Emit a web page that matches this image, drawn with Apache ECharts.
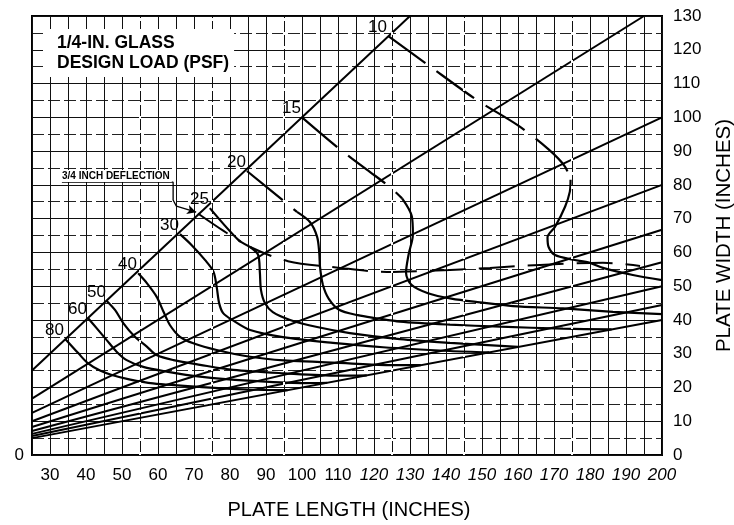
<!DOCTYPE html>
<html><head><meta charset="utf-8">
<script src="https://cdn.jsdelivr.net/npm/echarts@6.0.0/dist/echarts.min.js"></script>
<style>html,body{margin:0;padding:0;background:#fff}#c{width:734px;height:525px}</style>
</head><body><div id="c"></div>
<script>
// ---- axis ranges / ticks ----
const xMin = 25, xMax = 200, xStep = 5;
const yMin = 0, yMax = 130, yStep = 10;

// ---- aspect-ratio lines (length : width), endpoints ----
const ratio1   = [[25, 25],   [130, 130]];
const ratio1_5 = [[25, 16.7], [195, 130]];
const ratio2   = [[25, 12.5], [200, 100]];
const ratio2_5 = [[25, 10],   [200, 80]];
const ratio3   = [[25, 8.3],  [200, 66.7]];
const ratio3_5 = [[25, 7.1],  [200, 57.1]];
const ratio4   = [[25, 6.25], [200, 50]];
const ratio4_5 = [[25, 5.6],  [200, 44.4]];
const ratio5   = [[25, 5],    [200, 40]];

// ---- design-load curves (psf) ----
const loadNames = ['10', '15', '20', '25', '30', '40', '50', '60', '80'];
const load10Dashed = [[123.9,124.1],[135,115.5],[148.6,105.1],[160,97.6],[168.5,90.5],[173,85.5],[174.6,81.5]];
const load10Solid  = [[174.6,81.5],[174.4,78],[173.1,73.6],[170.3,67.6],[168.2,64.5],[168.5,61.6],[170.3,59.2],[174.9,57.9],[180,56.9],[183.6,55.4],[191.9,53.3],[200,51.8]];
const load15Dashed = [[100,100],[110,91],[118,84.5],[124.4,79.4],[127.8,76]];
const load15Solid  = [[127.8,76],[130.5,70.7],[130.8,65.3],[129.6,59.3],[128.9,54],[130.4,50.4],[135,47.9],[141.5,46.3],[149.4,45.2],[158.6,44.1],[172.5,43.4],[186.4,42.4],[200,41.7]];
const load20Dashed = [[84.7,84.1],[95.3,74.9],[98.6,72]];
const load20Solid  = [[98.6,72],[102.2,69],[104.2,64.6],[104.8,59.8],[105,55.7],[105.8,50.4],[107.4,46.3],[110.3,43],[115.5,41.4],[120.7,40.5],[127.2,39.5],[141.1,38.6],[155,38],[172.5,37.4],[186,37.2]];
const load25Dashed = [[74.4,73.1],[82.3,63.7],[85.6,61.6]];
const load25Solid  = [[85.6,61.6],[87.8,59.3],[88.3,54],[88.6,48.9],[89.7,45],[91.9,42.3],[96.7,40],[104.2,37.9],[113.3,36.1],[127.2,34.3],[141.1,33.2],[160,32]];
const load30 = [[66.1,65.4],[69.3,62.2],[73.1,57.7],[75.4,54.3],[76.3,49.8],[77,44.9],[78.1,42],[80.6,40],[85.6,37],[94.7,34.9],[108.6,33.2],[122.5,31.9],[141.1,30.8],[152,30.4]];
const load40 = [[54.5,53.8],[56.9,50.9],[59.6,46.9],[61.5,42.5],[63.3,38.5],[66.1,35],[69.8,33.1],[76.3,31.1],[85.6,29.1],[95,28],[104.2,27.6],[121.3,26.7],[133,26.6]];
const load50 = [[45.7,45.7],[48.1,42.9],[50.4,39],[53.6,35],[56.9,32.1],[59.6,29.6],[64.3,28.1],[71.7,26.7],[80.9,25.2],[95,24.2],[110,23.5],[118,23.6]];
const load60 = [[40.6,40.5],[43,37.5],[45.7,34.1],[48.5,30.6],[51.3,28.1],[55.9,26.1],[62.4,24.7],[71.7,23.2],[85,22],[100,21.3],[107,21.4]];
const load80 = [[34.3,34.3],[37.9,30.1],[40.5,27.2],[43.9,25],[47.2,23.7],[52,22.4],[58.6,21.2],[72.2,20.1],[85,19.4],[96,19.2]];

// ---- 3/4 inch deflection limit and its leader ----
const deflection = [[71.1,71.5],[78,66.5],[85.6,61.6],[96.1,57.4],[110.6,55.4],[123.6,54.2],[141.1,54.8],[152.2,55.4],[166.1,56.3],[183.6,56.9],[193.9,56]];
const leader = [[33.3,80.8],[64.2,80.8],[64.2,75.5],[65.1,73.7]];
const leaderArrow = [[65.1,73.7],[70.6,71.9]];

const FONT = '"Liberation Sans", Arial, Helvetica, sans-serif';
const chart = echarts.init(document.getElementById('c'), null, {renderer: 'canvas'});

const straight = (d) => ({type:'line', data:d, symbol:'none', showSymbol:false, silent:true, animation:false, z:3,
  lineStyle:{color:'#000', width:2}});
const curve = (d, dashed) => ({type:'line', data:d, symbol:'none', showSymbol:false, silent:true, animation:false, z:4, smooth:0.3,
  lineStyle:{color:'#000', width:2.2, type: dashed ? [46,14] : 'solid', cap:'butt'}});

const curveStarts = [load10Dashed[0], load15Dashed[0], load20Dashed[0], load25Dashed[0], load30[0], load40[0], load50[0], load60[0], load80[0]];
const dashedVerticals = [55, 75, 95, 125, 145, 175];

const series = [
  {type:'line', data:[], silent:true, animation:false, z:1,
   markLine:{silent:true, animation:false, symbol:'none', label:{show:false},
     lineStyle:{color:'#fff', width:2, type:[3,11]},
     data: dashedVerticals.map(v => ({xAxis: v}))}},
  straight(ratio1), straight(ratio1_5), straight(ratio2), straight(ratio2_5), straight(ratio3),
  straight(ratio3_5), straight(ratio4), straight(ratio4_5), straight(ratio5),
  curve(load10Dashed, true), curve(load10Solid, false),
  curve(load15Dashed, true), curve(load15Solid, false),
  curve(load20Dashed, true), curve(load20Solid, false),
  curve(load25Dashed, true), curve(load25Solid, false),
  curve(load30, false), curve(load40, false), curve(load50, false), curve(load60, false), curve(load80, false),
  {type:'line', data:deflection, symbol:'none', showSymbol:false, silent:true, animation:false, z:4, smooth:0.3,
   lineStyle:{color:'#000', width:2, type:[36,13]}},
  {type:'line', data:leader, symbol:'none', showSymbol:false, silent:true, animation:false, z:5,
   lineStyle:{color:'#000', width:1.3},
   markLine:{silent:true, animation:false, symbol:['none','arrow'], symbolSize:[7,9], label:{show:false},
     lineStyle:{color:'#000', width:1.3, type:'solid'},
     data:[[{coord:leaderArrow[0]},{coord:leaderArrow[1]}]]}},
  {type:'custom', coordinateSystem:'cartesian2d', silent:true, animation:false, z:6, clip:false,
   encode:{x:0, y:1},
   data: curveStarts.map((p,i)=>[p[0], p[1], i]),
   renderItem: (params, api) => {
     const pt = api.coord([api.value(0), api.value(1)]);
     return {type:'text', x: Math.round(pt[0] - 1), y: Math.round(pt[1] - 9),
       style:{text: loadNames[api.value(2)], fill:'#000', opacity:1, font:'17px ' + FONT, align:'right', verticalAlign:'middle'}};
   }}
];

const option = {
  animation:false,
  backgroundColor:'#fff',
  title:[
    {text:'1/4-IN. GLASS\nDESIGN LOAD (PSF)', left:43, top:29, backgroundColor:'#fff', padding:[4,5,4,14],
     textStyle:{fontFamily:FONT, fontWeight:'bold', fontSize:17.5, lineHeight:20, color:'#000'}},
    {text:'3/4 INCH DEFLECTION', left:60, top:170, backgroundColor:'#fff', padding:[1,2,0,2],
     textStyle:{fontFamily:FONT, fontWeight:'bold', fontSize:10, lineHeight:11, color:'#000'}}
  ],
  grid:{left:32, right:72, top:16, bottom:70, show:true, borderColor:'#000', borderWidth:2,
        backgroundColor:'transparent', containLabel:false, outerBoundsMode:'none'},
  xAxis:{type:'value', min:xMin, max:xMax, interval:xStep,
    axisLine:{show:false}, axisTick:{show:false},
    splitLine:{show:true, lineStyle:{color:'#111', width:1}},
    axisLabel:{margin:12, fontSize:17, fontFamily:FONT, color:'#000',
      formatter: v => (v % 10 !== 0) ? '' : (v >= 120 ? '{it|' + v + '}' : String(v)),
      rich:{it:{fontStyle:'italic', fontSize:17, fontFamily:FONT, color:'#000'}}},
    name:'PLATE LENGTH (INCHES)', nameLocation:'middle', nameGap:45,
    nameTextStyle:{fontSize:20, fontFamily:FONT, color:'#000', padding:[0,0,0,4]}},
  yAxis:[
    {type:'value', position:'right', min:yMin, max:yMax, interval:yStep,
     axisLine:{show:false}, axisTick:{show:false},
     splitLine:{show:true, lineStyle:{color:'#111', width:1}},
     minorTick:{show:false, splitNumber:2},
     minorSplitLine:{show:true, lineStyle:{color:'#222', width:1, type:[12,4]}},
     axisLabel:{margin:11, fontSize:17, fontFamily:FONT, color:'#000'},
     name:'PLATE WIDTH (INCHES)', nameLocation:'middle', nameGap:52, nameRotate:90,
     nameTextStyle:{fontSize:20.5, fontFamily:FONT, color:'#000'}},
    {type:'value', position:'left', min:yMin, max:yMax, interval:yStep,
     axisLine:{show:false}, axisTick:{show:false}, splitLine:{show:false},
     axisLabel:{margin:8, fontSize:17, fontFamily:FONT, color:'#000', formatter: v => v === 0 ? '0' : ''}}
  ],
  series: series
};
chart.setOption(option);
</script>
</body></html>
